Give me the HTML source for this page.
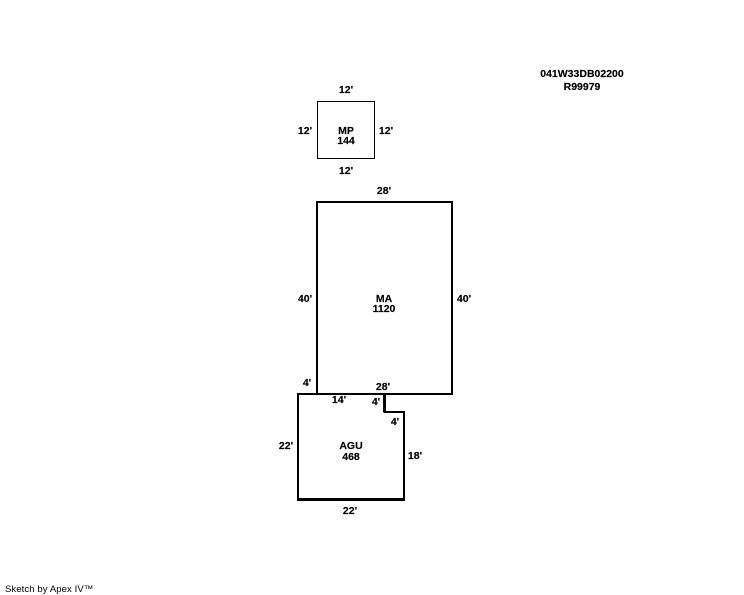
<!DOCTYPE html>
<html>
<head>
<meta charset="utf-8">
<style>
html,body{margin:0;padding:0;background:#fff}
svg{display:block}
text{font-family:"Liberation Sans",Arial,sans-serif;font-size:10.5px;font-weight:bold;fill:#000;stroke:#000;stroke-width:0.15;text-anchor:middle}
</style>
</head>
<body>
<svg width="744" height="595" viewBox="0 0 744 595" xmlns="http://www.w3.org/2000/svg">
<rect x="0" y="0" width="744" height="595" fill="#fff"/>
<rect x="317.5" y="101.5" width="57" height="57" fill="none" stroke="#000" stroke-width="1"/>
<path d="M317 394V202H452V394H298" fill="none" stroke="#000" stroke-width="2"/>
<path d="M298 393V499H404V412H384.500V394" fill="none" stroke="#000" stroke-width="2"/>
<rect x="297" y="498" width="108" height="3" fill="#000"/>
<rect x="383" y="394" width="3" height="18" fill="#000"/>

<text x="582" y="77">041W33DB02200</text>
<text x="582" y="90">R99979</text>

<text x="346" y="93">12'</text>
<text x="305" y="134">12'</text>
<text x="386" y="134">12'</text>
<text x="346" y="134">MP</text>
<text x="346" y="144">144</text>
<text x="346" y="174">12'</text>

<text x="384" y="194">28'</text>
<text x="305" y="302">40'</text>
<text x="464" y="302">40'</text>
<text x="384" y="302">MA</text>
<text x="384" y="312">1120</text>

<text x="307" y="386">4'</text>
<text x="383" y="390">28'</text>
<text x="339" y="403">14'</text>
<text x="376" y="405">4'</text>
<text x="395" y="425">4'</text>
<text x="286" y="449">22'</text>
<text x="351" y="449">AGU</text>
<text x="351" y="460">468</text>
<text x="415" y="459">18'</text>
<text x="350" y="514">22'</text>

<text x="5" y="592" style="text-anchor:start;font-weight:normal;font-size:9.500px;letter-spacing:0.100px;stroke:none">Sketch by Apex IV™</text>
</svg>
</body>
</html>
